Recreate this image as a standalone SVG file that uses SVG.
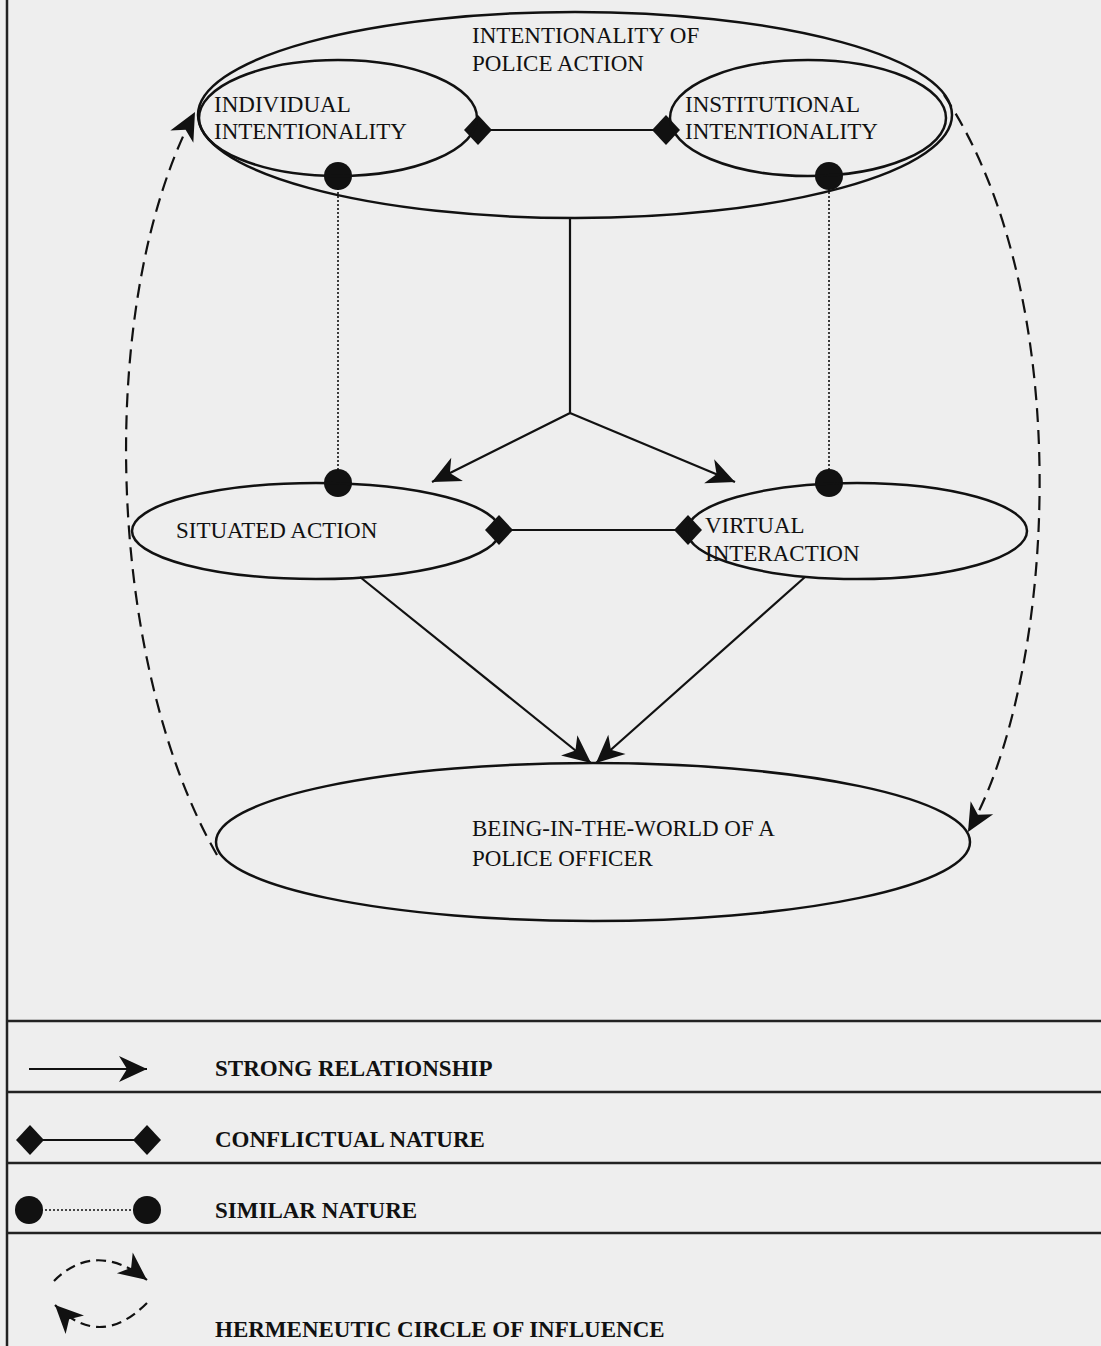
<svg xmlns="http://www.w3.org/2000/svg" width="1101" height="1346" viewBox="0 0 1101 1346">
  <style>
    .bg { fill: #eeeeee; }
    .shape { fill: none; stroke: #111; stroke-width: 2.5; }
    .frame { fill: none; stroke: #222; stroke-width: 2.5; }
    .solid { fill: none; stroke: #111; stroke-width: 2.2; }
    .dotted { fill: none; stroke: #111; stroke-width: 1.6; stroke-dasharray: 2 2; }
    .dashed { fill: none; stroke: #111; stroke-width: 2.2; stroke-dasharray: 14 8; }
    .dot { fill: #111; }
    .label { font-family: "Liberation Serif", "Times New Roman", serif; font-size: 23px; fill: #111; }
    .key { font-family: "Liberation Serif", "Times New Roman", serif; font-size: 23px; font-weight: bold; fill: #111; }
  </style>
  <defs>
    <marker id="stealth" viewBox="-30 -15 32 30" refX="0" refY="0" markerWidth="32" markerHeight="30" markerUnits="userSpaceOnUse" orient="auto">
      <path d="M0,0 L-28,-13 L-20,0 L-28,13 Z" fill="#111"/>
    </marker>
    <path id="diamond" d="M0,-15 L14,0 L0,15 L-14,0 Z" fill="#111"/>
  </defs>

  <rect class="bg" x="0" y="0" width="1101" height="1346"/>

  <!-- page frame and legend rows -->
  <g id="frame">
    <line class="frame" x1="7" y1="0" x2="7" y2="1346"/>
    <line class="frame" x1="7" y1="1021" x2="1101" y2="1021"/>
    <line class="frame" x1="7" y1="1092" x2="1101" y2="1092"/>
    <line class="frame" x1="7" y1="1163" x2="1101" y2="1163"/>
    <line class="frame" x1="7" y1="1233" x2="1101" y2="1233"/>
  </g>

  <!-- connectors -->
  <g id="connectors">
    <!-- strong relationships -->
    <polyline class="solid" points="570,218 570,413 432,482" marker-end="url(#stealth)"/>
    <line class="solid" x1="570" y1="413" x2="735" y2="482" marker-end="url(#stealth)"/>
    <line class="solid" x1="360" y1="577" x2="591" y2="763" marker-end="url(#stealth)"/>
    <line class="solid" x1="805" y1="577" x2="596" y2="763" marker-end="url(#stealth)"/>
    <!-- conflictual nature -->
    <line class="solid" x1="478" y1="130" x2="666" y2="130"/>
    <use href="#diamond" x="478" y="130"/>
    <use href="#diamond" x="666" y="130"/>
    <line class="solid" x1="499" y1="530" x2="688" y2="530"/>
    <use href="#diamond" x="499" y="530"/>
    <use href="#diamond" x="688" y="530"/>
    <!-- similar nature -->
    <line class="dotted" x1="338" y1="176" x2="338" y2="483"/>
    <circle class="dot" cx="338" cy="176" r="14"/>
    <circle class="dot" cx="338" cy="483" r="14"/>
    <line class="dotted" x1="829" y1="176" x2="829" y2="483"/>
    <circle class="dot" cx="829" cy="176" r="14"/>
    <circle class="dot" cx="829" cy="483" r="14"/>
    <!-- hermeneutic circle -->
    <path class="dashed" d="M217,855 C105,660 95,300 195,112" marker-end="url(#stealth)"/>
    <path class="dashed" d="M944,95 C1080,300 1055,680 968,832" marker-end="url(#stealth)"/>
  </g>

  <g id="intentionality-of-police-action">
    <ellipse class="shape" cx="575" cy="115" rx="377" ry="103"/>
    <text class="label" x="472" y="43">INTENTIONALITY OF</text>
    <text class="label" x="472" y="71">POLICE ACTION</text>
  </g>

  <g id="individual-intentionality">
    <ellipse class="shape" cx="338" cy="118" rx="139" ry="58"/>
    <text class="label" x="214" y="112">INDIVIDUAL</text>
    <text class="label" x="214" y="139">INTENTIONALITY</text>
  </g>

  <g id="institutional-intentionality">
    <ellipse class="shape" cx="808" cy="118" rx="138" ry="58"/>
    <text class="label" x="685" y="112">INSTITUTIONAL</text>
    <text class="label" x="685" y="139">INTENTIONALITY</text>
  </g>

  <g id="situated-action">
    <ellipse class="shape" cx="316" cy="531" rx="184" ry="48"/>
    <text class="label" x="176" y="538">SITUATED ACTION</text>
  </g>

  <g id="virtual-interaction">
    <ellipse class="shape" cx="857" cy="531" rx="170" ry="48"/>
    <text class="label" x="705" y="533">VIRTUAL</text>
    <text class="label" x="705" y="561">INTERACTION</text>
  </g>

  <g id="being-in-the-world">
    <ellipse class="shape" cx="593" cy="842" rx="377" ry="79"/>
    <text class="label" x="472" y="836">BEING-IN-THE-WORLD OF A</text>
    <text class="label" x="472" y="866">POLICE OFFICER</text>
  </g>

  <!-- legend -->
  <g id="legend">
    <line class="solid" x1="29" y1="1069" x2="147" y2="1069" marker-end="url(#stealth)"/>
    <text class="key" x="215" y="1076">STRONG RELATIONSHIP</text>

    <line class="solid" x1="30" y1="1140" x2="147" y2="1140"/>
    <use href="#diamond" x="30" y="1140"/>
    <use href="#diamond" x="147" y="1140"/>
    <text class="key" x="215" y="1147">CONFLICTUAL NATURE</text>

    <line class="dotted" x1="29" y1="1210" x2="147" y2="1210"/>
    <circle class="dot" cx="29" cy="1210" r="14"/>
    <circle class="dot" cx="147" cy="1210" r="14"/>
    <text class="key" x="215" y="1218">SIMILAR NATURE</text>

    <path class="dashed" d="M54,1281 Q95,1240 147,1280" marker-end="url(#stealth)" style="stroke-dasharray: 10 6"/>
    <path class="dashed" d="M147,1303 Q100,1350 55,1305" marker-end="url(#stealth)" style="stroke-dasharray: 10 6"/>
    <text class="key" x="215" y="1337">HERMENEUTIC CIRCLE OF INFLUENCE</text>
  </g>
</svg>
